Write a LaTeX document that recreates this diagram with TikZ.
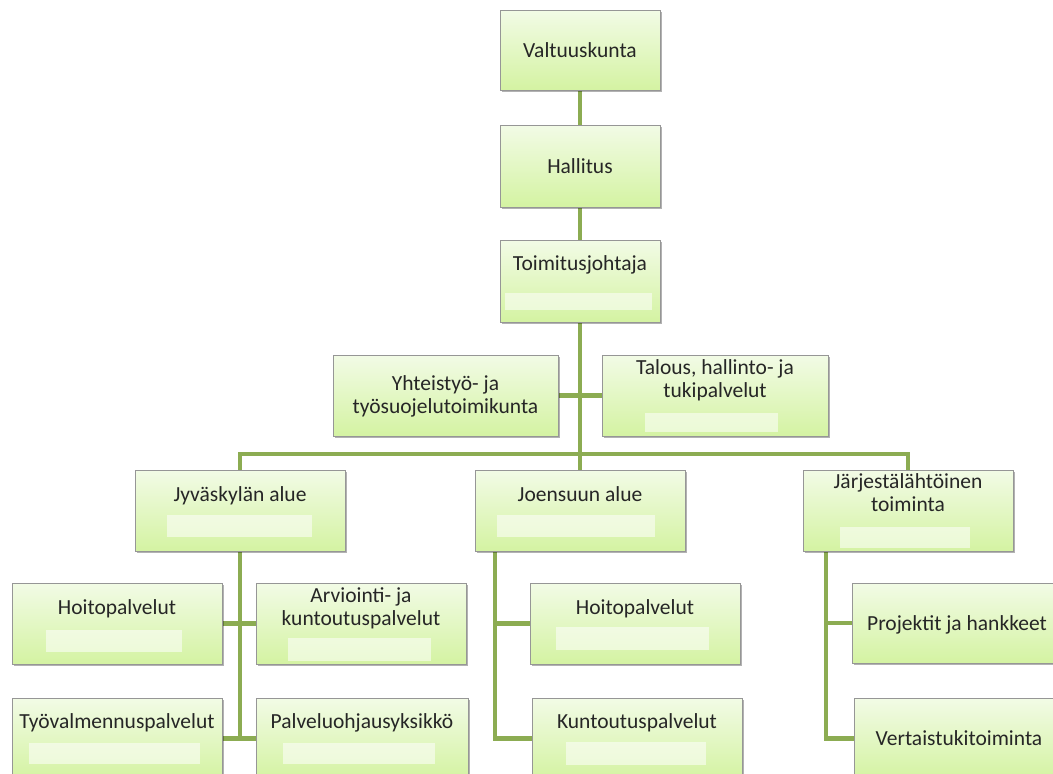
\documentclass[tikz,border=0pt]{standalone}
\usepackage{fontspec}
\setmainfont{Carlito}
\usetikzlibrary{shadows,backgrounds}
\definecolor{connc}{RGB}{140,172,82}
\definecolor{btop}{RGB}{242,251,230}
\definecolor{bbot}{RGB}{212,243,162}
\definecolor{bord}{RGB}{150,150,150}
\definecolor{txt}{RGB}{38,38,38}
\begin{document}
\begin{tikzpicture}[x=1pt,y=-1pt,
 box/.style={draw=bord, line width=0.8pt, top color=btop, bottom color=bbot, inner sep=0pt, outer sep=0pt,
   drop shadow={shadow xshift=1.5pt, shadow yshift=-2pt, opacity=0.3, fill=black}},
 lbl/.style={font=\fontsize{21.5}{23}\selectfont, text=txt, align=center, anchor=base, inner sep=0pt},
 link/.style={draw=connc, line width=4.5pt},
 bar/.style={fill=white, fill opacity=0.55}]
\useasboundingbox (0,0) rectangle (1053,774);
\clip (0,0) rectangle (1053,774);
% boxes
\node[box, minimum width=160, minimum height=80] (val) at (580,50) {};
\node[box, minimum width=160, minimum height=82] (hal) at (580,166) {};
\node[box, minimum width=160, minimum height=82] (toi) at (580,281) {};
\node[box, minimum width=225, minimum height=81] (yht) at (445.5,395.5) {};
\node[box, minimum width=226, minimum height=81] (tal) at (715,395.5) {};
\node[box, minimum width=210, minimum height=81] (jyv) at (240,510.5) {};
\node[box, minimum width=210, minimum height=81] (jo) at (580,510.5) {};
\node[box, minimum width=210, minimum height=81] (jar) at (908,510.5) {};
\node[box, minimum width=210, minimum height=81] (hoi1) at (117,623.5) {};
\node[box, minimum width=210, minimum height=81] (arv) at (361,623.5) {};
\node[box, minimum width=210, minimum height=81] (tyo) at (117,738.5) {};
\node[box, minimum width=212, minimum height=81] (pal) at (362,738.5) {};
\node[box, minimum width=210, minimum height=81] (hoi2) at (635,623.5) {};
\node[box, minimum width=210, minimum height=81] (kun) at (637,738.5) {};
\node[box, minimum width=210, minimum height=80] (pro) at (957,623) {};
\node[box, minimum width=210, minimum height=81] (ver) at (959,738.5) {};
% pale bars
\fill[bar] (505,293) rectangle (652,310);
\fill[bar] (645,413) rectangle (778,432);
\fill[bar] (167,515) rectangle (312,537);
\fill[bar] (497,515) rectangle (655,537);
\fill[bar] (840,527) rectangle (970,548);
\fill[bar] (46,630) rectangle (182,652);
\fill[bar] (288,638) rectangle (431,661);
\fill[bar] (29,743) rectangle (200,764);
\fill[bar] (283,743) rectangle (435,764);
\fill[bar] (556,627) rectangle (709,650);
\fill[bar] (566,742) rectangle (706,765);
% labels
\node[lbl] (tval) at (580,57) {Valtuuskunta};
\node[lbl] (thal) at (580,173) {Hallitus};
\node[lbl] (ttoi) at (580,270) {Toimitusjohtaja};
\node[lbl] (tyht) at (445.5,413) {Yhteistyö- ja\\työsuojelutoimikunta};
\node[lbl] (ttal) at (715,397) {Talous, hallinto- ja\\tukipalvelut};
\node[lbl] (tjyv) at (240,501) {Jyväskylän alue};
\node[lbl] (tjo) at (580,501) {Joensuun alue};
\node[lbl] (tjar) at (908,511) {Järjestälähtöinen\\toiminta};
\node[lbl] (thoi1) at (117,614) {Hoitopalvelut};
\node[lbl] (tarv) at (361,625) {Arviointi- ja\\kuntoutuspalvelut};
\node[lbl] (ttyo) at (117,728) {Työvalmennuspalvelut};
\node[lbl] (tpal) at (362,728) {Palveluohjausyksikkö};
\node[lbl] (thoi2) at (635,614) {Hoitopalvelut};
\node[lbl] (tkun) at (637,728) {Kuntoutuspalvelut};
\node[lbl] (tpro) at (957,630) {Projektit ja hankkeet};
\node[lbl] (tver) at (959,745) {Vertaistukitoiminta};
% connectors
\coordinate (hb) at (580,454);
\coordinate (jod) at (495,510);
\coordinate (jard) at (826,510);
\begin{scope}[on background layer]
\fill[white] (0,0) rectangle (1053,774);
\draw[link] (val.south) -- (hal.north);
\draw[link] (hal.south) -- (toi.north);
\draw[link] (toi.south) -- (jo.north);
\draw[link] (yht.east) -- (tal.west);
\draw[link] (jyv.north) -- (jyv.north |- hb) -- (jar.north |- hb) -- (jar.north);
\draw[link] (jyv.south) -- (jyv.south |- tyo.east);
\draw[link] (hoi1.east) -- (arv.west);
\draw[link] (tyo.east) -- (pal.west);
\draw[link] (jod |- jo.south) |- (hoi2.west);
\draw[link] (jod |- jo.south) |- (kun.west);
\draw[link] (jard |- jar.south) |- (pro.west);
\draw[link] (jard |- jar.south) |- (ver.west);
\end{scope}
\end{tikzpicture}
\end{document}
